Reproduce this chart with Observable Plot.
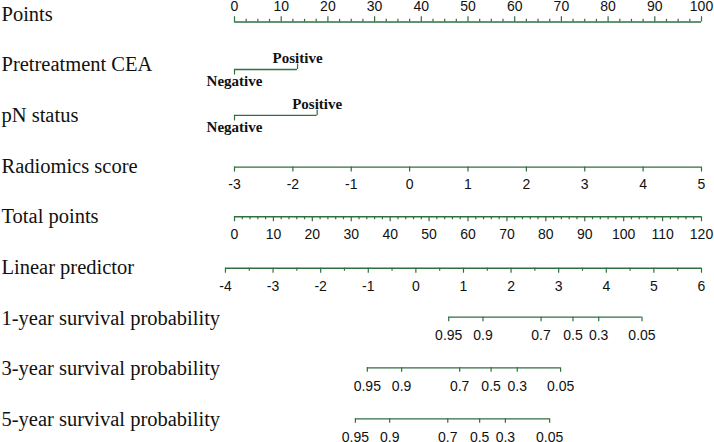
<!DOCTYPE html>
<html><head><meta charset="utf-8">
<script src="https://cdn.jsdelivr.net/npm/d3@7"></script>
<script src="https://cdn.jsdelivr.net/npm/@observablehq/plot@0.6"></script>
<style>body{margin:0;background:#fff}#chart svg{display:block}</style>
</head><body><div id="chart"></div>
<script>
// ---------- data ----------
const rowLabels = ["Points","Pretreatment CEA","pN status","Radiomics score","Total points","Linear predictor","1-year survival probability","3-year survival probability","5-year survival probability"];

const pointsTicks = [0,10,20,30,40,50,60,70,80,90,100];
const pointsMinorStep = 2.5;

const ceaLevels = ["Negative","Positive"];
const ceaPoints = [0, 13.5];
const pnLevels = ["Negative","Positive"];
const pnPoints = [0, 17.7];

const radTicks = [-3,-2,-1,0,1,2,3,4,5];
const radRange = [-3, 5];            // maps onto 0..100 points

const totalTicks = [0,10,20,30,40,50,60,70,80,90,100,110,120];
const totalMinorStep = 2;
const totalMax = 120;

const lpTicks = [-4,-3,-2,-1,0,1,2,3,4,5,6];
const lpMinorStep = 0.5;
const lpAtZeroTotal = -3.81;         // linear predictor at 0 total points
const lpPerTotalPoint = 0.08175;     // linear predictor per total point

const survLabels = ["0.95","0.9","0.7","0.5","0.3","0.05"];
const surv1LP = [0.69, 1.41, 2.63, 3.30, 3.84, 4.75];
const surv3LP = [-1.02, -0.30, 0.92, 1.58, 2.13, 3.04];
const surv5LP = [-1.27, -0.55, 0.67, 1.34, 1.88, 2.81];

// ---------- conversions onto the shared points scale ----------
const radToPts = r => (r - radRange[0]) / (radRange[1] - radRange[0]) * 100;
const totToPts = t => t / totalMax * 100;
const lpToPts = lp => totToPts((lp - lpAtZeroTotal) / lpPerTotalPoint);

// ---------- layout ----------
const Y0 = 13.5, Y8 = 419;
const STEP = (Y8 - Y0) / (rowLabels.length - 1);   // pixels per row
const u = px => px / STEP;                          // pixels -> row units

const G = "#2f6f40";
const SANS = "'Liberation Sans', Arial, sans-serif";
const SERIF = "'Liberation Serif', 'Times New Roman', serif";
const marks = [];

// row labels
marks.push(Plot.text(rowLabels, {y: (d, i) => i, text: d => d, frameAnchor: "left", textAnchor: "start", dx: 1, fontFamily: SERIF, fontSize: 20.5, fill: "#111"}));

function ticks(row, xs, lineDy, len, up) {
  const a = row + u(lineDy), b = row + u(up ? lineDy - len : lineDy + len);
  return Plot.ruleX(xs, {x: d => d, y1: () => a, y2: () => b, stroke: G, strokeWidth: 1.2});
}
function line(row, x1, x2, lineDy) {
  return Plot.ruleY([row], {y: d => d, x1: () => x1, x2: () => x2, dy: lineDy, stroke: G, strokeWidth: 1.3});
}
function labels(row, xs, texts, dy) {
  return Plot.text(xs, {x: d => d, y: () => row, text: (d, i) => texts[i], dy, fontFamily: SANS, fontSize: 14, fill: "#111"});
}

// Points axis (ticks up, labels above)
{
  const r = 0, dy = 8;
  const minor = d3.range(0, 100 + 1e-9, pointsMinorStep).filter(v => v % 10 !== 0);
  marks.push(line(r, 0, 100, dy), ticks(r, pointsTicks, dy, 5.3, true), ticks(r, minor, dy, 2.7, true),
    labels(r, pointsTicks, pointsTicks.map(String), dy - 15));
}
// categorical predictors
function categorical(row, levels, pts, dy) {
  marks.push(line(row, pts[0], pts[1], dy));
  marks.push(ticks(row, [pts[0]], dy, 5.5, false), ticks(row, [pts[1]], dy, 5.5, true));
  marks.push(Plot.text([pts[0]], {x: d => d, y: () => row, text: () => levels[0], dy: dy + 11.5, fontFamily: SERIF, fontWeight: "bold", fontSize: 15, fill: "#111"}));
  marks.push(Plot.text([pts[1]], {x: d => d, y: () => row, text: () => levels[1], dy: dy - 11, fontFamily: SERIF, fontWeight: "bold", fontSize: 15, fill: "#111"}));
}
categorical(1, ceaLevels, ceaPoints, 4.8);
categorical(2, pnLevels, pnPoints, 0);

// Radiomics score
{
  const r = 3, dy = 1;
  const xs = radTicks.map(radToPts);
  marks.push(line(r, xs[0], xs[xs.length - 1], dy), ticks(r, xs, dy, 5, false), labels(r, xs, radTicks.map(String), dy + 17.6));
}
// Total points
{
  const r = 4, dy = 0;
  const xs = totalTicks.map(totToPts);
  const minor = d3.range(0, totalMax + 1e-9, totalMinorStep).filter(v => v % 10 !== 0).map(totToPts);
  marks.push(line(r, 0, 100, dy), ticks(r, xs, dy, 5, false), ticks(r, minor, dy, 3, false), labels(r, xs, totalTicks.map(String), dy + 18));
}
// Linear predictor
{
  const r = 5, dy = 0.8;
  const xs = lpTicks.map(lpToPts);
  const minor = d3.range(lpTicks[0], lpTicks[lpTicks.length - 1] + 1e-9, lpMinorStep).filter(v => !Number.isInteger(v)).map(lpToPts);
  marks.push(line(r, xs[0], xs[xs.length - 1], dy), ticks(r, xs, dy, 5, false), ticks(r, minor, dy, 3, false), labels(r, xs, lpTicks.map(String), dy + 18));
}
// Survival probabilities
[[6, surv1LP, -1], [7, surv3LP, -1], [8, surv5LP, -0.7]].forEach(([r, lps, dy]) => {
  const xs = lps.map(lpToPts);
  marks.push(line(r, xs[0], xs[xs.length - 1], dy), ticks(r, xs, dy, 4.5, false), labels(r, xs, survLabels, dy + 18.3));
});

const chart = Plot.plot({
  width: 714, height: 442,
  marginLeft: 0, marginRight: 0, marginTop: 0, marginBottom: 0,
  x: {domain: [0, 100], range: [234, 701], axis: null},
  y: {domain: [0, rowLabels.length - 1], range: [Y0, Y8], axis: null},
  style: {background: "#fff"},
  marks
});
document.getElementById("chart").appendChild(chart);
</script>
</body></html>
